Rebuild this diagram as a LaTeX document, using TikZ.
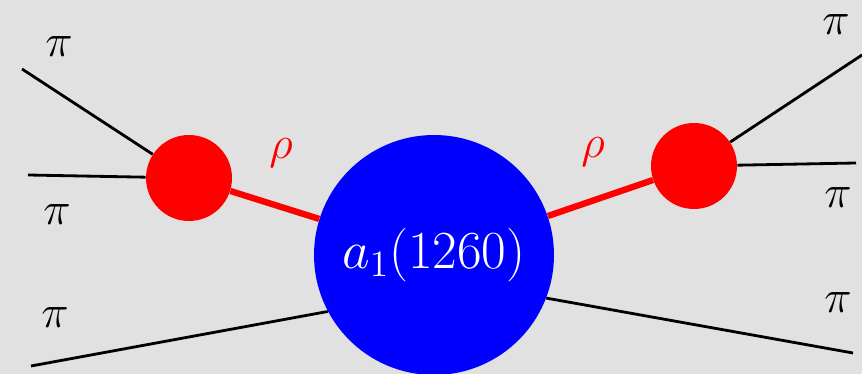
\documentclass[tikz,border=0pt]{standalone}
\usepackage{amsmath}
\usetikzlibrary{positioning}
\definecolor{bggray}{RGB}{225,225,225}
\tikzset{
  blob/.style={circle,inner sep=0pt,minimum size=#1},
  pionline/.style={line width=1.6pt},
  rholine/.style={red,line width=3.6pt},
  bigtext/.style={font=\huge,scale=#1,transform shape},
  lbl/.style={bigtext=1.27},
}

\begin{document}
\begin{tikzpicture}[x=0.02cm,y=-0.02cm]
  \fill[bggray] (0,0) rectangle (862,374);
  \useasboundingbox (0,0) rectangle (862,374);
  % blobs
  \node[blob=4.8cm,fill=blue] (a1) at (434,255) {};
  \node[bigtext=1.47,text=white] (a1txt) at (a1.center) {$a_1(1260)$};
  \node[blob=1.72cm,fill=red] (rhoL) at (189,178) {};
  \node[blob=1.72cm,fill=red] (rhoR) at (694,166) {};
  % free ends of the pions
  \coordinate (lpi1) at (22,69);
  \coordinate (lpi2) at (28,175);
  \coordinate (lpi3) at (31,366);
  \coordinate (rpi1) at (862,55);
  \coordinate (rpi2) at (856,163);
  \coordinate (rpi3) at (853,353);
  \foreach \p in {lpi1,lpi2} {\draw[pionline] (\p) -- (rhoL);}
  \foreach \p in {rpi1,rpi2} {\draw[pionline] (rhoR) -- (\p);}
  \draw[pionline] (lpi3) -- (a1.208);
  \draw[pionline] (a1.339) -- (rpi3);
  \draw[rholine] (rhoL) -- (a1);
  \draw[rholine] (a1) -- (rhoR);
  % labels
  \node[lbl] (tpi1) at (59,47) {$\pi$};
  \node[lbl] (tpi2) at (57,215) {$\pi$};
  \node[lbl] (tpi3) at (55,318) {$\pi$};
  \node[lbl] (tpi4) at (836,25) {$\pi$};
  \node[lbl] (tpi5) at (838,198) {$\pi$};
  \node[lbl] (tpi6) at (838,303) {$\pi$};
  \node[lbl,red] (trhoL) at (281,153) {$\rho$};
  \node[lbl,red] (trhoR) at (593,152) {$\rho$};
\end{tikzpicture}
\end{document}
